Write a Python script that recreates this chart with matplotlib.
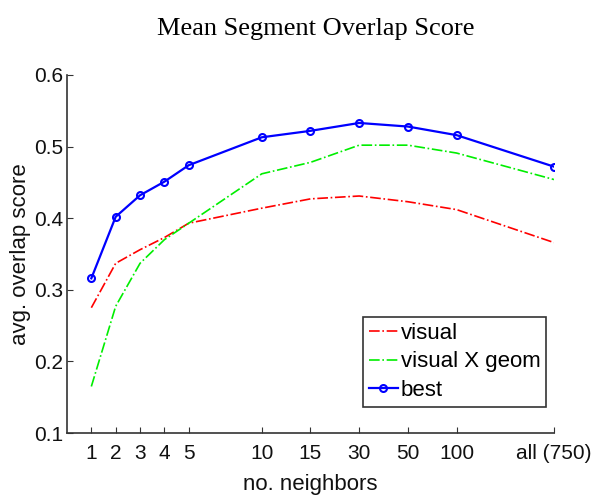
import numpy as np
import matplotlib.pyplot as plt

plt.rcParams['font.family'] = ['Liberation Sans', 'DejaVu Sans']

# категории по оси x и их позиции на оси
neighbors = ['1', '2', '3', '4', '5', '10', '15', '30', '50', '100', 'all (750)']
x_pos = [1, 2, 3, 4, 5, 8, 10, 12, 14, 16, 20]

# значения серий
visual = [0.275, 0.337, 0.356, 0.373, 0.393, 0.414, 0.427, 0.431, 0.423, 0.412, 0.366]
visual_geom = [0.165, 0.277, 0.337, 0.370, 0.393, 0.462, 0.478, 0.502, 0.502, 0.491, 0.454]
best = [0.316, 0.402, 0.432, 0.451, 0.474, 0.513, 0.522, 0.533, 0.528, 0.516, 0.472]

fig = plt.figure(figsize=(5.96, 4.96), dpi=100)
ax = fig.add_axes([0.1124, 0.127, 0.8171, 0.7218])

ax.plot(x_pos, visual, color='red', linestyle='-.', linewidth=1.2, label='visual')
ax.plot(x_pos, visual_geom, color='#00ee00', linestyle='-.', linewidth=1.2, label='visual X geom')
ax.plot(x_pos, best, color='blue', linestyle='-', linewidth=1.6, marker='o',
        markersize=5, markerfacecolor='none', markeredgewidth=1.5, label='best')

ax.set_xlim(0, 20)
ax.set_ylim(0.1, 0.6)
ax.set_xticks(x_pos)
ax.set_xticklabels(neighbors)
ax.set_yticks([0.1, 0.2, 0.3, 0.4, 0.5, 0.6])
ax.set_yticklabels(['0.1', '0.2', '0.3', '0.4', '0.5', '0.6'])

for side in ['top', 'right']:
    ax.spines[side].set_visible(False)
for side in ['left', 'bottom']:
    ax.spines[side].set_color('#333333')
    ax.spines[side].set_linewidth(1.2)

ax.tick_params(axis='x', direction='in', length=4, labelsize=15, colors='#333333',
               labelcolor='#111111', pad=8)
ax.tick_params(axis='y', direction='in', length=4, labelsize=15, colors='#333333',
               labelcolor='#111111', pad=3)

ax.set_xlabel('no. neighbors', fontsize=16, color='#111111', labelpad=7.5)
ax.set_ylabel('avg. overlap score', fontsize=16, color='#111111', labelpad=2)
fig.suptitle('Mean Segment Overlap Score', fontsize=19, family='Liberation Serif',
             x=0.53, y=0.963)

leg = ax.legend(loc='upper left', bbox_to_anchor=(0.608, 0.324), fontsize=16,
                fancybox=False, edgecolor='#333333', framealpha=1,
                handlelength=1.3, handletextpad=0.15, labelspacing=0.35,
                borderpad=0.25, borderaxespad=0)
leg.get_frame().set_linewidth(1.2)

plt.savefig('out.png', dpi=100)
